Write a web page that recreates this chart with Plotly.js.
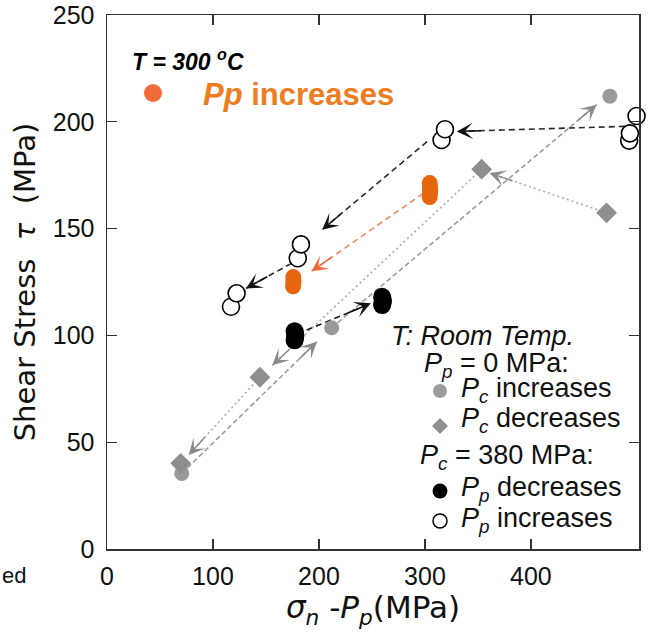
<!DOCTYPE html>
<html>
<head>
<meta charset="utf-8">
<script src="https://cdn.plot.ly/plotly-3.0.1.min.js"></script>
<style>html,body{margin:0;padding:0;background:#fff;}#chart{width:651px;height:635px;}</style>
</head>
<body>
<div id="chart"></div>
<script>
// ---- Room temperature, Pp = 0 MPa ----
const pcIncX = [70.5, 212, 474.5];
const pcIncY = [35.4, 103.6, 212];
const pcDecX = [471.4, 353.5, 144.3, 69.5];
const pcDecY = [157.4, 177.8, 80.4, 40.1];
// ---- Room temperature, Pc = 380 MPa ----
const ppDecX = [177, 177.4, 177.8, 177.4, 177, 259.6, 260, 260.4, 260, 259.6];
const ppDecY = [97.7, 98.8, 99.9, 101, 102, 114.2, 115.2, 116.2, 117.2, 118.1];
const ppIncX = [492.7, 493.4, 499.7, 315.7, 318.9, 180, 183, 117, 122.3];
const ppIncY = [191.2, 194.6, 202.7, 191.5, 196.5, 136.1, 142.6, 113.4, 119.7];
// ---- T = 300 oC, Pp increases ----
const hotX = [175.6, 175.8, 176, 175.8, 304.5, 304.7, 304.9, 304.7, 304.5];
const hotY = [123, 124.4, 125.8, 127.3, 164.8, 166.4, 168, 169.6, 171.3];
// ---- connecting paths (start -> arrow tip) ----
const arrowGroup = ['pcInc', 'pcInc', 'pcDec', 'pcDec', 'pcDec', 'ppInc', 'ppInc', 'ppInc', 'ppDec', 'hot'];
const arrowX0 = [70.5, 212, 471.4, 353.5, 144.3, 498, 302, 174, 188.4, 298.4];
const arrowY0 = [35.4, 103.6, 157.4, 177.8, 80.4, 198, 190.7, 133.7, 102.5, 166.5];
const arrowX1 = [198, 462, 361, 156, 77, 330, 203, 131, 249, 193];
const arrowY1 = [97, 208, 176, 86, 44, 195.5, 149.5, 122, 115, 130];
// ---- axes ----
const xTicks = [0, 100, 200, 300, 400];
const yTicks = [0, 50, 100, 150, 200, 250];

const X_RANGE = [0, 502], Y_RANGE = [0, 250];
const PLOT_W = 532, PLOT_H = 534;
const pxX = PLOT_W / (X_RANGE[1] - X_RANGE[0]);
const pxY = PLOT_H / (Y_RANGE[1] - Y_RANGE[0]);

const styles = {
  pcInc: {line: {color: '#9c9c9c', width: 1.6, dash: '5px,3px'}, head: '#8a8a8a'},
  pcDec: {line: {color: '#ababab', width: 1.6, dash: '2px,3px'}, head: '#8a8a8a'},
  ppInc: {line: {color: '#2a2a2a', width: 1.6, dash: '6px,4px'}, head: '#111111'},
  ppDec: {line: {color: '#1a1a1a', width: 1.6, dash: '6px,4px'}, head: '#111111'},
  hot:   {line: {color: '#f08a62', width: 1.6, dash: '6px,4px'}, head: '#f26a3a'}
};

const traces = [];
Object.keys(styles).forEach(g => {
  const xs = [], ys = [];
  arrowGroup.forEach((gg, i) => {
    if (gg !== g) return;
    xs.push(arrowX0[i], arrowX1[i], null);
    ys.push(arrowY0[i], arrowY1[i], null);
  });
  traces.push({x: xs, y: ys, mode: 'lines', line: styles[g].line, hoverinfo: 'skip', showlegend: false, cliponaxis: false});
});

traces.push({x: pcIncX, y: pcIncY, mode: 'markers', marker: {symbol: 'circle', size: 15, color: '#9a9a9a'}, showlegend: false, cliponaxis: false});
traces.push({x: pcDecX, y: pcDecY, mode: 'markers', marker: {symbol: 'diamond', size: 16, color: '#8e8e8e'}, showlegend: false, cliponaxis: false});
traces.push({x: ppDecX, y: ppDecY, mode: 'markers', marker: {symbol: 'circle', size: 18, color: '#000000'}, showlegend: false, cliponaxis: false});
traces.push({x: hotX, y: hotY, mode: 'markers', marker: {symbol: 'circle', size: 16, color: '#e8650f'}, showlegend: false, cliponaxis: false});
traces.push({x: ppIncX, y: ppIncY, mode: 'markers', marker: {symbol: 'circle', size: 17, color: '#ffffff', line: {color: '#000000', width: 1.6}}, showlegend: false, cliponaxis: false});

const annotations = [];
// arrow heads
arrowGroup.forEach((g, i) => {
  const dxp = (arrowX1[i] - arrowX0[i]) * pxX, dyp = (arrowY1[i] - arrowY0[i]) * pxY;
  const len = Math.sqrt(dxp * dxp + dyp * dyp);
  const back = Math.min(0.9, 26 / len);
  annotations.push({
    x: arrowX1[i], y: arrowY1[i], xref: 'x', yref: 'y',
    ax: arrowX1[i] - (arrowX1[i] - arrowX0[i]) * back,
    ay: arrowY1[i] - (arrowY1[i] - arrowY0[i]) * back,
    axref: 'x', ayref: 'y', text: '', showarrow: true,
    arrowhead: 3, arrowsize: 1.8, arrowwidth: 1.5, arrowcolor: styles[g].head, standoff: 0
  });
});

function X(px) { return (px - 107) / pxX; }
function Y(py) { return (549 - py) / pxY; }
const LF = 'Liberation Sans, Arial, sans-serif';
function txt(px, py, text, size, color, extra) {
  return Object.assign({x: X(px), y: Y(py), xref: 'x', yref: 'y', text: text, showarrow: false, borderpad: 0,
    xanchor: 'left', yanchor: 'middle', font: {family: LF, size: size, color: color}}, extra || {});
}
annotations.push(txt(131, 60, '<b><i>T = 300 <sup>o</sup>C</i></b>', 23, '#000'));
annotations.push(txt(202, 94, '<b><i>Pp</i> increases</b>', 31, '#ee7d22'));

annotations.push(txt(390, 336, '<i>T: Room Temp.</i>', 27, '#111'));
annotations.push(txt(423, 365, '<i>P<sub>p</sub></i> = 0 MPa:', 27, '#111'));
annotations.push(txt(460, 390, '<i>P<sub>c</sub></i> increases', 27, '#111'));
annotations.push(txt(460, 420, '<i>P<sub>c</sub></i> decreases', 27, '#111'));
annotations.push(txt(419, 457, '<i>P<sub>c</sub></i> = 380 MPa:', 27, '#111'));
annotations.push(txt(460, 489, '<i>P<sub>p</sub></i> decreases', 27, '#111'));
annotations.push(txt(460, 520, '<i>P<sub>p</sub></i> increases', 27, '#111'));
annotations.push({xref: 'paper', yref: 'paper', x: -107 / PLOT_W, y: (549 - 575) / PLOT_H,
  xanchor: 'left', yanchor: 'middle', text: 'ed', showarrow: false, font: {family: LF, size: 22, color: '#111'}});

// legend symbols (pixel-sized shapes anchored in the plot)
function dot(px, py, r, fill, lineColor) {
  return {type: 'circle', xref: 'x', yref: 'y', xsizemode: 'pixel', ysizemode: 'pixel',
    xanchor: X(px), yanchor: Y(py), x0: -r, x1: r, y0: -r, y1: r,
    fillcolor: fill, line: {color: lineColor || fill, width: lineColor ? 1.5 : 0}};
}
const shapes = [
  dot(153, 93, 9, '#f26a3a'),
  dot(440, 391, 7, '#9a9a9a'),
  {type: 'path', xref: 'x', yref: 'y', xsizemode: 'pixel', ysizemode: 'pixel', xanchor: X(440), yanchor: Y(426),
    path: 'M0,8 L8,0 L0,-8 L-8,0 Z', fillcolor: '#8e8e8e', line: {width: 0}},
  dot(440, 491, 7.5, '#000'),
  dot(440, 521, 7, '#fff', '#000')
];

const axisCommon = {showline: true, linecolor: '#333', linewidth: 1.5, mirror: 'ticks', ticks: 'inside',
  ticklen: 10, tickwidth: 1.3, tickcolor: '#333', showgrid: false, zeroline: false,
  tickfont: {family: LF, size: 25, color: '#111'}};
const TF = 'DejaVu Sans, Verdana, sans-serif';

const layout = {
  width: 651, height: 635,
  margin: {l: 107, r: 12, t: 15, b: 86},
  paper_bgcolor: '#fff', plot_bgcolor: '#fff',
  showlegend: false,
  xaxis: Object.assign({}, axisCommon, {range: X_RANGE, tickvals: xTicks, ticktext: xTicks.map(String),
    ticklabelstandoff: 4,
    title: {text: '<i>σ<sub>n</sub></i> -<i>P<sub>p</sub></i>(MPa)\u00a0\u00a0\u00a0', font: {family: TF, size: 31, color: '#111'}, standoff: 4}}),
  yaxis: Object.assign({}, axisCommon, {range: Y_RANGE, tickvals: yTicks, ticktext: yTicks.map(String),
    ticklabelstandoff: 6,
    title: {text: 'Shear Stress\u00a0 <i>τ</i>\u00a0 (MPa)', font: {family: TF, size: 29, color: '#111'}, standoff: 8}}),
  annotations: annotations,
  shapes: shapes
};

Plotly.newPlot('chart', traces, layout, {displayModeBar: false, staticPlot: true});
</script>
</body>
</html>
